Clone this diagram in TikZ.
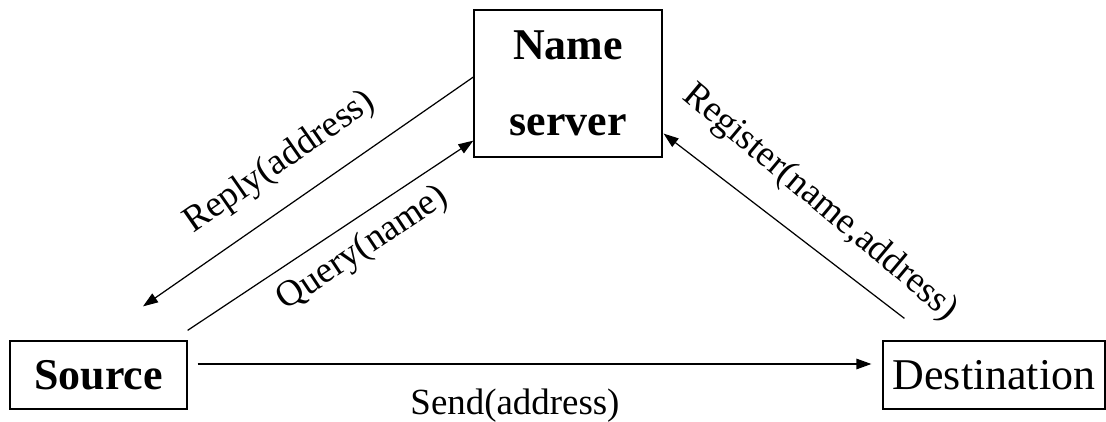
\documentclass[tikz,border=0pt]{standalone}
\usepackage{fontspec}
\setmainfont{Liberation Serif}
\usetikzlibrary{arrows.meta}

\begin{document}
\begin{tikzpicture}[x=0.02cm, y=0.02cm,
  box/.style = {draw, line width=0.7pt, inner sep=0pt},
  msg/.style = {-{Triangle[length=0.3cm,width=0.21cm]}, line width=0.7pt},
  lbl/.style = {font=\fontsize{21}{25}\selectfont, inner sep=0pt}]
\useasboundingbox (0,0) rectangle (1106,422);

\node[box, minimum width=3.76cm, minimum height=2.94cm, align=center,
  font=\fontsize{25}{43}\selectfont\bfseries] (ns) at (568,338.5) {Name\\server};
\node[box, minimum width=3.54cm, minimum height=1.36cm,
  font=\fontsize{25}{30}\selectfont\bfseries] (src) at (98.5,47) {Source};
\node[box, minimum width=4.44cm, minimum height=1.36cm,
  font=\fontsize{25}{30}\selectfont] (dst) at (994,47) {Destination};

\coordinate (rtip) at ([shift={(44.5,34)}]src.north);

\draw[msg] ([shift={(10,11)}]src.east) -- ([shift={(-11,11)}]dst.west);
\node[lbl, anchor=base] (send) at (515,7) {Send(address)};

\draw[msg] ([shift={(0,6.5)}]ns.west) -- (rtip);
\node[lbl, rotate=34.8] (reply) at (280,259) {Reply(address)};

\draw[msg] ([shift={(0,10)}]src.north east) -- ([shift={(0,17)}]ns.south west);
\node[lbl, rotate=33.6] (query) at (363,173) {Query(name)};

\draw[msg] ([shift={(22,22)}]dst.north west) -- ([shift={(1,24)}]ns.south east);
\node[lbl, rotate=-40] (reg) at (820,219) {Register(name,address)};
\end{tikzpicture}
\end{document}
